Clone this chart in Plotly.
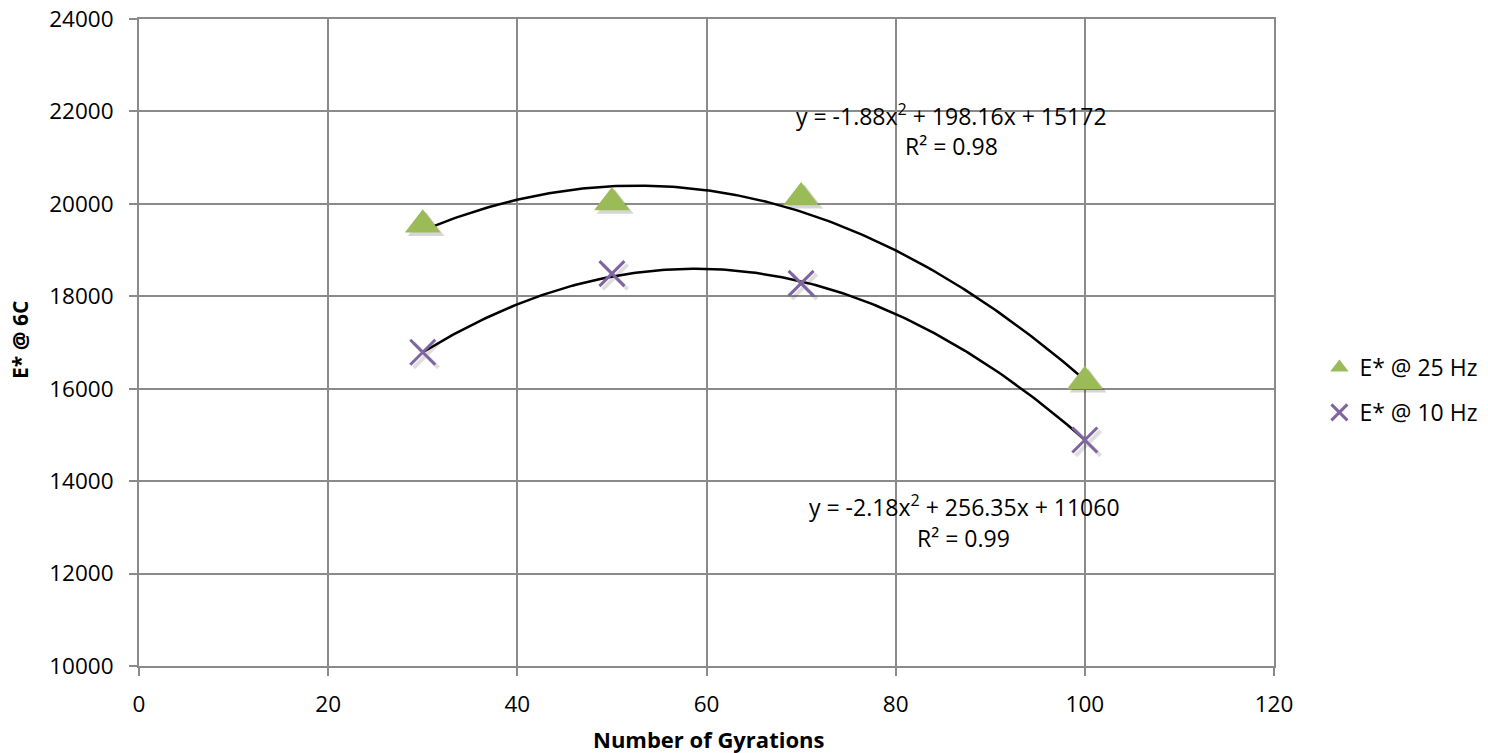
import numpy as np
import plotly.graph_objects as go

gyrations = [30, 50, 70, 100]
e25 = [19550, 20030, 20140, 16160]
e10 = [16790, 18490, 18280, 14890]

# trendline coefficients as displayed on the chart
coef25 = [-1.88, 198.16, 15172]
coef10 = [-2.18, 256.35, 11060]
eq25 = ["y = -1.88x<sup>2</sup> + 198.16x + 15172", "R² = 0.98"]
eq10 = ["y = -2.18x<sup>2</sup> + 256.35x + 11060", "R² = 0.99"]

FONT = "Open Sans"
GRID = "#8a8a8a"
GREEN = "#9bbb59"
PURPLE = "#8064a2"

xs = np.linspace(30, 100, 200)
fig = go.Figure()
fig.add_trace(go.Scatter(x=xs, y=np.polyval(coef25, xs), mode="lines",
                         line=dict(color="black", width=2.5), showlegend=False, hoverinfo="skip"))
fig.add_trace(go.Scatter(x=xs, y=np.polyval(coef10, xs), mode="lines",
                         line=dict(color="black", width=2.5), showlegend=False, hoverinfo="skip"))
# soft shadows
fig.add_trace(go.Scatter(x=[g + 0.35 for g in gyrations], y=[v - 70 for v in e25], mode="markers",
                         marker=dict(symbol="triangle-up", size=32, color="rgba(0,0,0,0.16)"),
                         showlegend=False, hoverinfo="skip"))
fig.add_trace(go.Scatter(x=[g + 0.35 for g in gyrations], y=[v - 70 for v in e10], mode="markers",
                         marker=dict(symbol="x-thin", size=25, color="rgba(0,0,0,0.13)",
                                     line=dict(width=4, color="rgba(0,0,0,0.13)")),
                         showlegend=False, hoverinfo="skip"))
fig.add_trace(go.Scatter(x=gyrations, y=e25, mode="markers", name="E* @ 25 Hz", legendgroup="a",
                         marker=dict(symbol="triangle-up", size=31, color=GREEN, line=dict(width=0))))
fig.add_trace(go.Scatter(x=gyrations, y=e10, mode="markers", name="E* @ 10 Hz", legendgroup="b",
                         marker=dict(symbol="x-thin", size=25, color=PURPLE,
                                     line=dict(width=3, color=PURPLE))))

afont = dict(family=FONT, size=23, color="black")
fig.add_annotation(x=85.95, y=21923, text=eq25[0], showarrow=False, xanchor="center", yanchor="middle", font=afont)
fig.add_annotation(x=85.9, y=21252, text=eq25[1], showarrow=False, xanchor="center", yanchor="middle", font=afont)
fig.add_annotation(x=87.3, y=13462, text=eq10[0], showarrow=False, xanchor="center", yanchor="middle", font=afont)
fig.add_annotation(x=87.2, y=12770, text=eq10[1], showarrow=False, xanchor="center", yanchor="middle", font=afont)
fig.add_annotation(xref="paper", yref="paper", x=(20 - 139) / 1135, y=(666 - 340) / 647,
                   text="<b>E* @ 6C</b>", textangle=-90, showarrow=False,
                   xanchor="center", yanchor="middle", font=dict(family=FONT, size=21, color="black"))
fig.add_annotation(xref="paper", yref="paper", x=(708 - 139) / 1135, y=(666 - 739) / 647,
                   text="<b>Number of Gyrations</b>", showarrow=False,
                   xanchor="center", yanchor="middle", font=dict(family=FONT, size=22, color="black"))

axis_common = dict(showgrid=True, gridcolor=GRID, gridwidth=2, zeroline=False,
                   showline=True, linecolor=GRID, linewidth=2, mirror=True,
                   ticks="outside", ticklen=8, tickcolor=GRID, tickwidth=2,
                   tickfont=dict(family=FONT, size=22.5, color="black"), automargin=False,
                   ticklabeloverflow="allow")

fig.update_layout(
    width=1488, height=753,
    margin=dict(l=139, r=214, t=19, b=87, autoexpand=False),
    paper_bgcolor="white", plot_bgcolor="white",
    font=dict(family=FONT, size=22, color="black"),
    legend=dict(x=1.04, y=(666 - 390) / 647, xanchor="left", yanchor="middle",
                font=dict(family=FONT, size=23, color="black"),
                itemsizing="trace", tracegroupgap=12),
    xaxis=dict(range=[0, 120], dtick=20, tick0=0, ticklabelstandoff=9, **axis_common),
    yaxis=dict(range=[10000, 24000], dtick=2000, tick0=10000, tickformat="d", ticklabelstandoff=11,
               **axis_common),
)

fig.write_html("out.html", config={"displayModeBar": False},
               post_script="document.body.style.margin='0';document.body.style.overflow='hidden';")
